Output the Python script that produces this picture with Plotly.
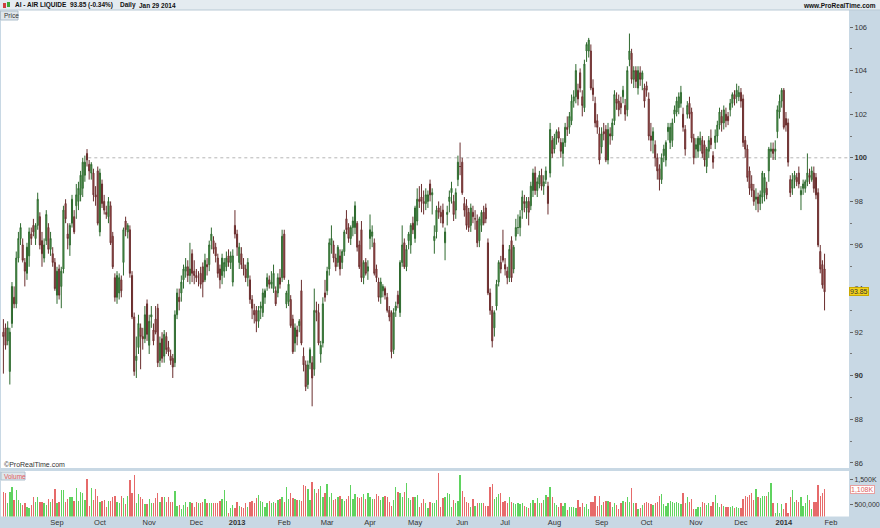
import pandas as pd
import plotly.graph_objects as go

# ---------------- data ----------------
start_date = "2012-07-30"
end_date = "2014-02-07"
holidays = ["2012-12-25", "2012-12-26", "2013-01-01", "2013-03-29", "2013-04-01",
            "2013-05-01", "2013-12-25", "2013-12-26", "2014-01-01"]
first_tick_month = "2012-09-01"
month_abbr = {1: "Jan", 2: "Feb", 3: "Mar", 4: "Apr", 5: "May", 6: "Jun", 7: "Jul",
              8: "Aug", 9: "Sep", 10: "Oct", 11: "Nov", 12: "Dec"}

opens = [
    92.0, 92.2, 91.6, 90.2, 92.4, 93.6, 93.3, 95.4, 96.3, 96.0,
    95.2, 94.7, 95.5, 96.5, 96.9, 96.3, 96.9, 97.3, 96.2, 95.4,
    96.2, 96.8, 95.8, 95.6, 95.2, 93.7, 94.9, 94.1, 94.9, 97.9,
    96.5, 96.0, 97.0, 97.3, 97.8, 98.0, 98.3, 98.6, 99.2, 100.2,
    99.7, 99.3, 99.3, 98.3, 99.4, 96.6, 98.8, 98.0, 97.5, 97.3,
    97.8, 96.4, 94.5, 93.6, 93.8, 94.4, 95.2, 97.1, 96.6, 96.7,
    94.6, 92.7, 90.7, 91.3, 92.2, 91.8, 91.7, 93.3, 91.4, 92.7,
    92.1, 92.6, 93.1, 90.7, 91.7, 90.9, 91.8, 91.3, 90.9, 90.8,
    90.6, 92.8, 93.6, 93.8, 94.4, 94.8, 95.0, 94.6, 95.6, 94.8,
    94.6, 94.5, 94.7, 95.0, 94.4, 95.1, 95.1, 96.2, 96.2, 95.9,
    95.4, 94.9, 94.6, 94.8, 95.0, 95.5, 95.2, 94.3, 96.9, 96.5,
    95.2, 95.6, 95.1, 94.9, 94.5, 94.4, 93.5, 93.0, 93.0, 92.5,
    93.1, 92.9, 93.6, 94.1, 94.4, 94.2, 94.0, 93.9, 93.8, 94.5,
    94.5, 96.5, 93.3, 93.4, 93.5, 92.6, 91.5, 92.1, 92.3, 93.9,
    90.9, 90.5, 89.6, 90.6, 90.6, 90.3, 93.0, 92.9, 91.0, 91.5,
    93.8, 93.9, 94.9, 96.0, 96.0, 95.4, 95.2, 95.5, 95.2, 95.7,
    97.2, 96.8, 96.3, 96.8, 96.8, 97.0, 96.0, 96.7, 94.5, 95.2,
    94.8, 96.3, 96.4, 96.1, 94.9, 94.3, 93.6, 93.9, 94.0, 93.6,
    93.0, 92.9, 91.2, 93.0, 93.7, 92.9, 95.2, 96.1, 95.0, 96.2,
    96.0, 97.0, 96.3, 97.1, 98.1, 98.2, 98.0, 97.9, 98.0, 98.8,
    98.3, 96.2, 96.6, 97.7, 97.5, 97.6, 96.1, 97.4, 98.0, 98.4,
    98.0, 97.6, 99.0, 99.6, 99.8, 97.9, 97.8, 97.5, 96.9, 97.5,
    97.2, 97.1, 96.2, 96.9, 97.5, 97.7, 96.1, 93.8, 93.0, 92.2,
    93.2, 94.3, 95.2, 96.0, 95.1, 94.8, 94.5, 96.2, 94.9, 96.4,
    96.8, 96.8, 97.6, 98.0, 97.7, 98.0, 97.8, 98.5, 99.3, 98.5,
    98.8, 99.2, 98.7, 99.0, 98.7, 99.3, 100.8, 100.4, 100.9, 101.2,
    100.7, 100.2, 100.7, 101.4, 101.4, 101.7, 102.6, 102.8, 103.1, 103.9,
    102.8, 102.3, 104.9, 104.9, 104.9, 103.2, 102.5, 101.7, 101.1, 100.5,
    101.2, 101.3, 99.9, 101.1, 101.0, 101.7, 102.7, 102.6, 102.5, 102.8,
    102.4, 102.2, 104.5, 104.8, 103.6, 104.0, 103.2, 103.9, 103.6, 103.2,
    103.3, 102.7, 101.0, 100.8, 100.6, 100.0, 99.5, 99.0, 100.1, 99.9,
    101.2, 100.7, 100.8, 102.0, 102.1, 102.3, 102.5, 102.0, 101.3, 102.0,
    102.5, 102.1, 100.9, 100.4, 100.3, 100.6, 100.8, 100.6, 99.6, 100.3,
    100.9, 100.1, 100.7, 101.0, 101.5, 101.9, 101.6, 102.0, 101.9, 102.2,
    102.5, 102.9, 102.8, 102.8, 103.0, 102.7, 100.8, 100.4, 99.4, 98.8,
    98.5, 98.1, 98.2, 97.9, 98.2, 98.4, 98.6, 99.4, 100.3, 100.4,
    100.3, 101.2, 102.1, 102.6, 103.1, 101.8, 101.6, 99.0, 98.6, 99.0,
    99.1, 99.3, 98.3, 98.6, 98.6, 98.9, 99.2, 99.0, 99.3, 99.1,
    98.4, 95.7, 95.1, 94.9,
]
highs = [
    92.6, 92.4, 92.5, 92.2, 94.3, 94.1, 95.7, 96.6, 97.0, 96.3,
    95.4, 96.1, 96.8, 96.8, 97.2, 97.0, 98.4, 97.5, 96.6, 96.3,
    97.6, 97.0, 96.6, 95.9, 95.4, 95.0, 95.1, 95.0, 97.8, 98.1,
    97.0, 97.0, 98.3, 97.6, 98.8, 98.9, 99.4, 100.0, 100.1, 100.4,
    99.9, 99.8, 99.5, 98.7, 99.6, 99.5, 99.0, 98.3, 97.8, 98.2,
    98.0, 96.6, 94.7, 94.8, 94.7, 94.6, 96.8, 97.3, 97.0, 96.9,
    94.8, 92.9, 91.8, 92.8, 92.4, 92.2, 93.2, 93.5, 92.8, 93.2,
    92.4, 93.2, 93.3, 91.8, 92.0, 92.1, 92.0, 91.6, 91.2, 91.0,
    93.0, 94.0, 94.0, 94.6, 95.1, 95.4, 95.3, 96.1, 95.8, 95.3,
    94.9, 94.8, 95.0, 95.2, 95.6, 95.4, 96.2, 96.8, 96.4, 96.1,
    95.6, 95.1, 95.6, 95.4, 95.7, 95.8, 95.7, 95.8, 97.6, 96.7,
    96.1, 95.9, 95.4, 95.1, 95.4, 94.6, 93.7, 93.3, 93.2, 93.2,
    93.4, 94.0, 94.0, 94.7, 94.6, 94.8, 95.1, 94.1, 94.7, 94.9,
    96.7, 96.7, 93.9, 94.4, 93.7, 92.8, 92.4, 92.3, 92.6, 94.4,
    91.3, 90.7, 90.7, 91.3, 90.9, 94.0, 93.4, 93.3, 91.6, 93.6,
    94.4, 95.0, 96.3, 96.9, 96.2, 95.6, 96.0, 95.8, 95.8, 96.7,
    97.6, 97.0, 96.9, 97.3, 98.0, 97.1, 96.2, 97.1, 95.3, 95.4,
    95.3, 97.4, 96.9, 96.3, 95.1, 94.5, 94.5, 94.2, 94.1, 93.8,
    93.2, 93.0, 93.1, 93.4, 93.9, 95.3, 96.9, 96.3, 96.0, 96.6,
    97.0, 97.3, 97.8, 98.6, 98.7, 98.8, 98.5, 98.6, 98.5, 99.0,
    98.6, 96.9, 97.8, 98.0, 97.8, 97.9, 96.8, 97.8, 98.5, 98.9,
    98.3, 98.6, 100.1, 100.7, 100.0, 98.2, 98.1, 97.7, 97.9, 97.8,
    97.6, 97.4, 97.3, 97.6, 97.8, 97.9, 96.3, 94.0, 93.2, 93.0,
    94.4, 95.3, 95.5, 96.7, 95.4, 95.0, 96.0, 96.4, 96.0, 97.2,
    97.4, 97.6, 98.5, 98.3, 98.2, 98.2, 98.9, 99.5, 99.6, 99.1,
    99.4, 99.5, 99.2, 99.6, 98.9, 101.6, 101.0, 101.1, 101.3, 101.4,
    100.9, 100.9, 101.6, 101.9, 102.1, 102.9, 103.1, 104.3, 103.4, 104.1,
    103.1, 104.5, 105.3, 105.5, 105.2, 103.6, 102.8, 102.0, 101.4, 101.4,
    101.6, 101.5, 101.6, 101.4, 101.8, 103.1, 103.0, 102.9, 102.8, 103.3,
    102.7, 104.2, 105.7, 105.0, 104.2, 104.2, 104.2, 104.2, 104.0, 103.4,
    103.5, 103.0, 101.6, 101.4, 100.8, 100.2, 99.7, 100.2, 100.6, 100.8,
    101.6, 101.6, 101.8, 102.4, 102.8, 103.0, 103.3, 102.3, 101.5, 102.6,
    102.8, 102.3, 101.1, 100.9, 101.0, 101.2, 101.0, 100.8, 100.5, 101.0,
    101.3, 100.3, 101.3, 101.7, 102.3, 102.2, 102.4, 102.3, 102.1, 102.7,
    103.0, 103.1, 103.4, 103.3, 103.2, 102.9, 101.0, 100.6, 99.6, 99.2,
    98.8, 98.6, 98.4, 98.5, 99.4, 99.3, 98.9, 100.5, 100.7, 100.7,
    100.8, 102.4, 102.9, 103.2, 103.2, 102.1, 101.8, 99.2, 99.3, 99.4,
    99.3, 99.6, 98.7, 99.0, 99.0, 100.2, 99.5, 99.6, 99.6, 99.3,
    98.6, 96.0, 95.3, 95.6,
]
lows = [
    90.1, 91.2, 91.4, 89.6, 92.2, 93.1, 93.1, 95.2, 96.0, 95.2,
    94.1, 94.4, 95.0, 96.0, 96.4, 96.0, 96.7, 95.8, 95.0, 95.2,
    96.0, 95.6, 95.5, 95.0, 93.9, 93.3, 93.5, 93.1, 94.7, 97.0,
    95.8, 95.5, 96.8, 96.5, 97.2, 97.6, 98.0, 98.2, 98.9, 99.6,
    99.0, 99.0, 98.0, 97.8, 96.9, 96.4, 97.7, 97.4, 97.2, 97.0,
    96.0, 94.9, 93.4, 93.3, 93.5, 93.6, 94.6, 96.4, 96.3, 94.5,
    92.6, 90.0, 89.9, 91.0, 90.3, 91.2, 91.5, 91.6, 91.0, 92.2,
    91.4, 91.9, 90.4, 90.4, 90.6, 90.6, 91.0, 90.9, 90.5, 89.9,
    90.4, 92.6, 93.0, 93.4, 94.0, 94.5, 94.3, 94.2, 94.3, 94.2,
    94.3, 94.1, 94.0, 93.6, 94.3, 94.6, 94.8, 95.8, 95.6, 95.2,
    94.5, 94.0, 94.2, 94.5, 94.8, 95.0, 94.9, 94.1, 96.3, 95.5,
    94.9, 94.9, 94.6, 94.3, 94.1, 93.3, 92.6, 92.4, 92.0, 92.2,
    92.6, 92.7, 93.3, 93.9, 94.0, 94.0, 93.8, 93.2, 93.6, 94.0,
    94.3, 94.4, 93.1, 93.2, 92.2, 91.0, 91.1, 91.4, 92.0, 91.4,
    90.2, 89.3, 89.4, 90.3, 88.6, 90.0, 92.5, 91.4, 90.6, 91.3,
    93.4, 93.7, 94.6, 95.6, 95.2, 94.8, 95.0, 94.6, 94.9, 95.5,
    96.5, 96.1, 96.0, 96.4, 96.5, 95.7, 94.9, 94.3, 94.2, 94.6,
    94.4, 95.8, 95.9, 94.6, 94.3, 93.4, 93.3, 93.6, 93.5, 92.9,
    92.5, 90.8, 91.0, 92.7, 93.1, 92.7, 95.0, 94.9, 94.8, 95.8,
    95.6, 96.5, 96.1, 96.9, 97.7, 97.5, 97.4, 97.6, 97.7, 98.0,
    97.4, 95.6, 96.3, 97.2, 97.0, 96.8, 95.3, 96.9, 97.5, 97.9,
    97.1, 97.2, 98.7, 99.2, 98.3, 97.3, 96.7, 96.6, 96.6, 97.0,
    96.7, 95.9, 95.9, 96.6, 96.9, 97.0, 93.7, 92.8, 91.3, 91.8,
    93.0, 94.1, 94.7, 95.2, 94.6, 94.2, 94.3, 94.3, 94.7, 96.2,
    96.5, 96.4, 97.2, 97.5, 97.2, 96.9, 97.6, 98.2, 98.3, 98.2,
    98.6, 98.5, 98.3, 98.8, 97.4, 99.1, 100.0, 100.2, 100.6, 100.7,
    100.0, 99.6, 100.5, 101.0, 101.1, 101.5, 102.3, 102.5, 102.4, 103.0,
    101.9, 102.1, 104.4, 104.6, 103.1, 102.6, 101.4, 101.1, 99.7, 100.2,
    100.8, 99.8, 99.7, 100.6, 100.8, 101.5, 102.2, 101.9, 102.0, 102.5,
    101.7, 101.9, 104.2, 103.4, 103.2, 103.2, 102.9, 103.3, 103.1, 102.3,
    102.8, 100.8, 100.3, 100.2, 99.6, 99.0, 98.5, 98.8, 99.8, 99.6,
    100.8, 100.4, 100.5, 101.6, 101.9, 102.0, 102.3, 101.2, 100.1, 101.8,
    101.8, 100.7, 99.7, 100.0, 100.0, 100.3, 100.0, 99.6, 99.3, 100.0,
    100.4, 99.5, 100.4, 100.7, 101.3, 101.2, 101.3, 101.4, 101.5, 101.9,
    102.3, 102.4, 102.5, 102.6, 102.3, 100.5, 100.0, 98.9, 98.3, 98.2,
    97.8, 97.6, 97.5, 97.6, 97.9, 98.0, 98.1, 98.9, 100.0, 99.9,
    99.9, 100.9, 101.8, 102.3, 101.3, 101.2, 99.6, 98.2, 98.3, 98.6,
    98.7, 98.6, 97.6, 98.3, 98.4, 98.7, 98.8, 98.9, 98.4, 98.1,
    95.9, 94.7, 94.0, 93.0,
]
closes = [
    91.8, 91.4, 92.2, 92.0, 94.1, 93.3, 95.4, 96.3, 96.8, 95.3,
    94.8, 95.9, 96.6, 96.3, 96.6, 96.9, 98.1, 96.0, 95.6, 96.0,
    97.4, 95.8, 96.3, 95.2, 94.0, 94.8, 93.7, 94.8, 97.6, 97.2,
    96.3, 96.9, 98.1, 96.6, 98.3, 98.6, 99.2, 99.8, 99.8, 99.9,
    99.4, 99.7, 98.3, 98.2, 97.0, 99.3, 97.9, 97.6, 97.4, 98.0,
    96.1, 95.0, 93.6, 94.6, 94.5, 93.9, 96.7, 96.7, 96.9, 94.7,
    92.7, 90.2, 90.9, 92.4, 91.8, 91.7, 92.8, 91.9, 92.5, 92.8,
    91.6, 92.0, 90.6, 91.5, 90.8, 91.9, 91.2, 91.1, 90.7, 90.4,
    92.8, 93.8, 93.4, 94.3, 94.9, 95.0, 94.6, 94.9, 94.7, 94.6,
    94.5, 94.5, 94.2, 94.3, 95.3, 95.0, 96.0, 96.5, 95.8, 95.5,
    94.7, 94.4, 95.4, 95.2, 95.4, 95.2, 95.5, 95.5, 96.5, 95.9,
    95.9, 95.1, 94.9, 94.5, 95.2, 93.5, 93.1, 92.8, 92.5, 93.0,
    93.2, 93.8, 93.9, 94.5, 94.2, 94.3, 94.7, 93.3, 94.5, 94.2,
    96.4, 94.5, 93.8, 94.2, 92.3, 91.1, 92.2, 91.8, 92.5, 91.5,
    90.5, 89.5, 90.5, 91.2, 89.9, 93.0, 92.9, 91.5, 91.4, 93.3,
    93.6, 94.8, 96.1, 96.3, 95.4, 95.0, 95.9, 94.9, 95.7, 96.6,
    96.7, 96.3, 96.8, 97.1, 97.8, 95.9, 95.0, 94.5, 95.2, 94.7,
    95.0, 96.7, 96.6, 94.7, 94.5, 93.6, 94.3, 94.1, 93.7, 93.0,
    92.7, 91.1, 92.9, 93.2, 93.3, 95.2, 96.0, 95.0, 95.8, 96.5,
    96.9, 96.7, 97.7, 98.1, 98.0, 98.0, 97.9, 98.3, 98.3, 98.3,
    98.4, 96.4, 97.6, 97.5, 97.3, 97.0, 96.6, 97.5, 98.2, 98.6,
    97.4, 98.4, 99.8, 99.6, 98.4, 97.6, 96.9, 96.8, 97.7, 97.3,
    97.2, 96.1, 97.2, 97.5, 97.0, 97.2, 93.8, 93.0, 91.6, 92.9,
    94.2, 95.2, 94.9, 95.3, 94.9, 94.5, 95.8, 94.5, 95.9, 96.8,
    96.8, 97.3, 98.2, 97.9, 98.0, 97.5, 98.7, 99.3, 98.5, 98.9,
    99.2, 98.7, 98.9, 99.4, 97.9, 101.3, 100.2, 100.9, 101.2, 100.9,
    100.3, 100.7, 101.4, 101.3, 101.9, 102.6, 102.8, 104.0, 102.7, 103.2,
    102.4, 104.3, 105.2, 105.4, 103.2, 102.9, 101.6, 101.4, 99.9, 101.1,
    101.1, 99.9, 101.3, 101.0, 101.6, 102.9, 102.5, 102.2, 102.3, 103.1,
    102.0, 104.0, 104.9, 103.6, 104.0, 103.5, 104.0, 103.6, 103.9, 102.6,
    103.1, 101.0, 100.8, 101.2, 100.0, 99.4, 99.0, 100.0, 100.4, 100.7,
    101.4, 101.4, 101.6, 102.2, 102.6, 102.8, 103.0, 101.4, 100.4, 102.4,
    102.0, 100.9, 100.0, 100.6, 100.9, 100.9, 100.2, 99.9, 100.4, 100.8,
    100.6, 99.8, 101.0, 101.5, 102.1, 101.6, 102.2, 101.7, 101.7, 102.5,
    102.9, 102.7, 103.1, 103.0, 102.6, 100.7, 100.4, 99.1, 98.6, 98.5,
    98.0, 98.2, 97.9, 98.3, 99.3, 99.1, 98.3, 100.4, 100.4, 100.2,
    100.4, 102.2, 102.6, 103.1, 101.4, 101.5, 99.8, 98.4, 99.0, 99.2,
    98.9, 98.8, 98.5, 98.8, 98.9, 99.3, 99.1, 99.4, 98.6, 98.3,
    96.0, 94.9, 94.17, 93.85,
]
volume_k = [
    1010, 945, 540, 1010, 1190, 670, 1080, 670, 560, 470,
    540, 370, 330, 470, 810, 605, 780, 605, 605,
    540, 470, 700, 605, 700, 1110, 540, 605, 1080,
    1080, 605, 700, 810, 780, 650, 1150, 650, 1000, 945,
    670, 1530, 430, 1150, 670, 1110, 840, 605, 650,
    670, 400, 650, 650, 780, 840, 605, 560, 840,
    740, 510, 840, 1490, 945, 1690, 540, 920, 810, 700,
    510, 510, 700, 540, 540, 740, 970, 605, 810,
    810, 605, 810, 605, 605, 1050, 430, 470, 290,
    470, 605, 400, 605, 540, 400, 605, 540, 560, 605,
    700, 540, 540, 540, 540, 560, 540, 650, 700,
    1080, 650, 160, 330, 470, 330, 605, 430, 400,
    330, 540, 400, 605, 650, 560, 740, 880, 650, 605,
    370, 560, 650, 540, 605, 540, 670, 700, 780,
    605, 1190, 700, 945, 740, 700, 670, 670, 650,
    1270, 1240, 1110, 670, 1410, 1110, 945, 1110, 1240,
    780, 970, 1330, 780, 970, 670, 700, 780, 840, 700,
    650, 700, 840, 1285, 700, 920, 810, 740, 780,
    920, 700, 970, 780, 700, 700, 920, 840, 670,
    780, 840, 810, 605, 430, 670, 1190, 1010, 970, 780,
    1010, 1380, 740, 670, 780, 810, 880, 400, 540,
    700, 540, 330, 605, 540, 540, 670, 1760,
    400, 740, 810, 970, 920, 370, 670, 560, 650, 1690,
    1050, 810, 605, 560, 400, 700, 430, 540, 560,
    560, 560, 430, 430, 1220, 1330, 700, 810, 920,
    970, 605, 650, 560, 810, 605, 540, 510, 560, 510,
    560, 430, 400, 330, 560, 670, 560, 740, 540,
    560, 670, 880, 810, 1220, 810, 540, 470, 400,
    540, 430, 560, 265, 400, 400, 370, 330, 670, 400,
    560, 400, 510, 290, 605, 605, 840, 430, 840,
    470, 605, 650, 650, 605, 400, 560, 470, 290,
    560, 650, 605, 780, 605, 1160, 560, 540, 290, 330,
    470, 560, 605, 540, 510, 470, 560, 605, 840,
    920, 510, 430, 540, 650, 605, 540, 605, 540,
    510, 945, 540, 810, 605, 700, 290, 290, 400, 400,
    605, 560, 470, 540, 430, 605, 880, 560, 400,
    510, 430, 400, 400, 400, 430, 330, 400, 330,
    330, 700, 840, 780, 880, 970, 670, 1110, 780, 740,
    840, 840, 840, 1010, 1350, 540, 130, 540, 130,
    510, 290, 560, 130, 780, 1080, 605, 670, 605,
    780, 430, 540, 880, 670, 290, 605, 605, 1285,
    840, 945, 1108,
]
price_ticks = [86, 88, 90, 92, 94, 96, 98, 100, 102, 104, 106]
price_minor_ticks = [87, 89, 91, 93, 95, 97, 99, 101, 103, 105]
bold_price_ticks = [90, 100]
vol_ticks = [500000, 1500000]
vol_tick_text = ["500,000", "1,500K"]
round_level = 100.0

header_name = "AI - AIR LIQUIDE"
header_quote = "93.85 (-0.34%)"
header_period = "Daily"
header_date = "Jan 29 2014"

# ---------------- geometry / style ----------------
W, H = 880, 528
PLOT_L, PLOT_R = 1, 849
PRICE_T, PRICE_B = 10, 468
VOL_T, VOL_B = 471, 516.5
FONT = "Liberation Sans, Arial, sans-serif"
BAND = "#c8d8e4"


def fx(p):
    return p / W


def fy(p):
    return 1 - p / H


trade_days = pd.bdate_range(start_date, end_date)
trade_days = trade_days[~trade_days.isin(pd.to_datetime(holidays))]
n = len(closes)
idx = list(range(n))

tick_vals, tick_text = [], []
prev = None
for i, d in enumerate(trade_days):
    key = (d.year, d.month)
    if prev is not None and key != prev and d >= pd.Timestamp(first_tick_month):
        tick_vals.append(i)
        tick_text.append(f"<b>{d.year}</b>" if d.month == 1 else month_abbr[d.month])
    prev = key

px_per_bar = 2.144
x0 = -(3.4 - PLOT_L) / px_per_bar
x1 = x0 + (PLOT_R - PLOT_L) / px_per_bar
xr = [x0, x1]

volumes = [v * 1000 for v in volume_k]
up = [c >= o for o, c in zip(opens, closes)]
vol_colors = ["#5fd35f" if u else "#e66a6a" for u in up]

peak_idx = max(range(60), key=lambda i: highs[i])

fig = go.Figure()
fig.add_trace(go.Candlestick(
    x=idx, open=opens, high=highs, low=lows, close=closes,
    xaxis="x", yaxis="y",
    increasing=dict(line=dict(color="#2f6a2f", width=1), fillcolor="#5cae5c"),
    decreasing=dict(line=dict(color="#6a2e2e", width=1), fillcolor="#bf5a5a"),
    whiskerwidth=0, hoverinfo="skip", showlegend=False,
))
fig.add_trace(go.Bar(
    x=idx, y=volumes, marker=dict(color=vol_colors, line=dict(width=0)),
    width=0.62, xaxis="x2", yaxis="y2", hoverinfo="skip", showlegend=False,
))

price_text = [f"<b>{t}</b>" if t in bold_price_ticks else str(t) for t in price_ticks]

fig.update_layout(
    width=W, height=H, margin=dict(l=0, r=0, t=0, b=0),
    paper_bgcolor=BAND, plot_bgcolor="white",
    font=dict(family=FONT, size=8, color="#333333"),
    showlegend=False, bargap=0,
    xaxis=dict(domain=[fx(PLOT_L), fx(PLOT_R)], range=xr, anchor="y",
               showticklabels=False, showgrid=False, zeroline=False, ticks="",
               rangeslider=dict(visible=False), fixedrange=True),
    yaxis=dict(domain=[fy(PRICE_B), fy(PRICE_T)], range=[85.77, 106.78], anchor="x",
               side="right", tickmode="array", tickvals=price_ticks, ticktext=price_text,
               ticks="outside", ticklen=3, tickcolor="#666666",
               tickfont=dict(size=7.5, color="#333333", family=FONT),
               minor=dict(tickmode="array", tickvals=price_minor_ticks, ticks="outside",
                          ticklen=2, tickcolor="#777777", showgrid=False),
               showgrid=False, zeroline=False, showline=False),
    xaxis2=dict(domain=[fx(PLOT_L), fx(PLOT_R)], range=xr, anchor="y2", matches="x",
                tickmode="array", tickvals=tick_vals, ticktext=tick_text, ticks="",
                tickfont=dict(size=7.5, color="#333333", family=FONT),
                showgrid=False, zeroline=False, showline=False),
    yaxis2=dict(domain=[fy(VOL_B), fy(VOL_T)], range=[0, 1.857e6], anchor="x2",
                side="right", tickmode="array", tickvals=vol_ticks, ticktext=vol_tick_text,
                ticks="outside", ticklen=3, tickcolor="#666666",
                tickfont=dict(size=7, color="#333333", family=FONT),
                showgrid=False, zeroline=False, showline=False),
)

shapes = [
    # header bar
    dict(type="rect", xref="paper", yref="paper", x0=0, x1=1, y0=fy(PRICE_T), y1=1,
         fillcolor="#e4ebf0", line=dict(width=0), layer="above"),
    dict(type="line", xref="paper", yref="paper", x0=0, x1=1, y0=fy(PRICE_T), y1=fy(PRICE_T),
         line=dict(color="#b9c9d5", width=1), layer="above"),
    # small header icon
    dict(type="rect", xref="paper", yref="paper", x0=fx(3), x1=fx(6), y0=fy(8), y1=fy(3),
         fillcolor="#d04040", line=dict(width=0), layer="above"),
    dict(type="rect", xref="paper", yref="paper", x0=fx(7), x1=fx(10), y0=fy(7), y1=fy(2),
         fillcolor="#3aa83a", line=dict(width=0), layer="above"),
    # "Price" tag
    dict(type="rect", xref="paper", yref="paper", x0=fx(0.5), x1=fx(18), y0=fy(20), y1=fy(11),
         fillcolor="#dfe6eb", line=dict(color="#aebfcc", width=1), layer="above"),
    # "Volume" tag
    dict(type="rect", xref="paper", yref="paper", x0=fx(1), x1=fx(25), y0=fy(480), y1=fy(472),
         fillcolor="#dfe6eb", line=dict(color="#aebfcc", width=1), layer="above"),
    # dashed level line
    dict(type="line", xref="x", yref="y", x0=peak_idx + 0.6, x1=xr[1], y0=round_level, y1=round_level,
         line=dict(color="#b5b5b5", width=1, dash="3px,3px"), layer="below"),
]
fig.update_layout(shapes=shapes)

ann = []


def txt(x, y, s, size=7, color="#111111", xanchor="left", **kw):
    ann.append(dict(xref="paper", yref="paper", x=fx(x), y=fy(y), text=s, showarrow=False,
                    xanchor=xanchor, yanchor="middle",
                    font=dict(family=FONT, size=size, color=color), **kw))


txt(13, 5.5, f"<b>{header_name}</b>", size=6.5)
txt(68, 5.5, f"<b>{header_quote}</b>", size=6.5)
txt(118, 5.5, f"<b>{header_period}</b>", size=6.5)
txt(137, 5.5, f"<b>{header_date}</b>", size=6.5)
txt(878, 5.5, "<b>www.ProRealTime.com</b>", size=6.5, xanchor="right")
txt(1.5, 15.5, "Price", size=6.5, color="#333333")
txt(1.5, 476, "Volume", size=6.5, color="#e05a5a")
txt(1.5, 464, "\u00a9ProRealTime.com", size=7, color="#333333")

ann.append(dict(xref="paper", yref="y", x=fx(PLOT_R), y=closes[-1], text=f"{closes[-1]:.2f}",
                showarrow=False, xanchor="left", yanchor="middle",
                font=dict(family=FONT, size=7, color="#333333"),
                bgcolor="#f3d21c", bordercolor="#c9a800", borderwidth=1, borderpad=0))
ann.append(dict(xref="paper", yref="y2", x=fx(PLOT_R) + 0.001, y=volumes[-1],
                text=f"{volume_k[-1] // 1000},{volume_k[-1] % 1000:03d}K",
                showarrow=False, xanchor="left", yanchor="middle",
                font=dict(family=FONT, size=7, color="#e06060"),
                bgcolor="#ffffff", bordercolor="#e8a0a0", borderwidth=1, borderpad=0))
fig.update_layout(annotations=ann)

fig.write_html(
    "out.html",
    config={"displayModeBar": False, "staticPlot": True},
    post_script="document.body.style.margin='0';document.body.style.padding='0';",
)
